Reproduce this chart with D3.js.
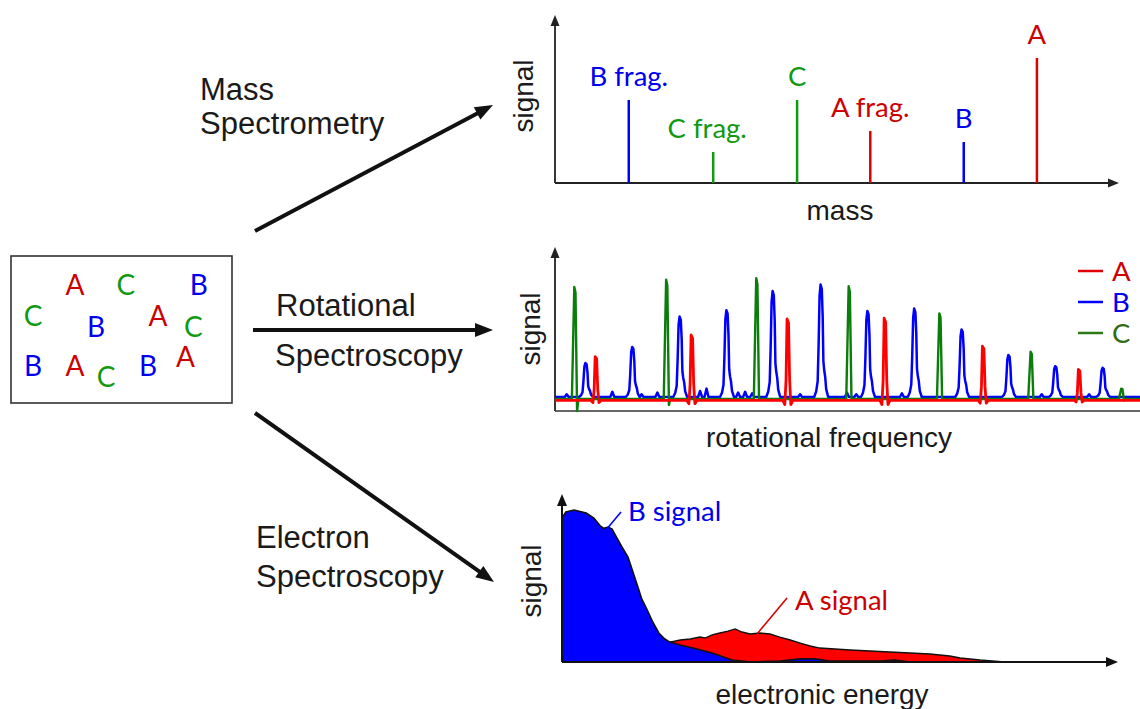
<!DOCTYPE html>
<html><head><meta charset="utf-8">
<script src="https://cdn.jsdelivr.net/npm/d3@7"></script>
<style>body{margin:0;background:#fff}svg{display:block}</style>
</head><body><svg id="c" width="1140" height="709"></svg>
<script>
// ---------- DATA ----------
// Mixture box
const mixLetters = ["A","C","B","C","B","A","C","B","A","C","B","A"];
// Mass spectrum
const massLabels = ["B frag.","C frag.","C","A frag.","B","A"];
const massSpecies = ["B","C","C","A","B","A"];
const massValues = [13.1, 28.1, 43.0, 56.0, 72.6, 85.6];
const massSignal = [50, 18.7, 50, 31.3, 24.7, 75.3];
// Rotational spectrum
const rotSeries = ["A","B","C"];
const rotBaselines = [6.6, 8.75, 7.5];
const rotBlueFreq = [5.3,13.3,21.4,29.4,37.3,45.5,53.5,61.5,69.6,77.6,85.6,93.7];
const rotBlueSignal = [30,40,59,63,75,79,62.5,64,51,35,28,27];
const rotBlueBumpFreq = [2.0,9.8,14.8,17.5,24.8,25.9,31.3,32.5,33.7,41.9,49.9,51.5,59.3,83.2,91.3];
const rotBlueBumpSignal = [10.5,12,10.5,11.5,12.5,14,11.5,12,11,10.5,11.5,10.5,11,10.5,10.5];
const rotRedFreq = [7.0,23.4,39.8,56.4,73.2,89.6];
const rotRedSignal = [34,47.5,57.5,58,40.5,26];
const rotGreenFreq = [3.4,19.1,34.5,50.3,65.8,81.4,96.9];
const rotGreenSignal = [77.5,82,83,78,61,37,14];
const rotGreenMin = [0,3.8,7.5,7.5,7.5,7.5,6.5];
// Electron spectrum
const elecBEnergy = [0,0.7,2.2,4.4,5.8,6.9,7.6,8.4,9.1,10,10.9,12,12.9,13.8,14.5,15.5,16.5,17.6,18.7,19.6,21.5,23.8,27.3,30.9,34.4,39.6,43.3,46,48.7,57.8,60.5,63.3,79.6];
const elecBSignal = [88.9,92.6,93.8,92,88.9,84.2,82.5,83.3,82,76.5,71,64.8,55.6,46.3,38.9,32.1,24.7,17.9,14.2,12.3,10.5,8.6,5.6,1.2,0,0.6,1.9,1.9,0.6,0.6,1.2,0,0];
const elecAEnergy = [19.6,21.5,23.3,25.1,26,27.3,28.7,30.2,31.5,32.7,34.2,36,37.8,39.6,41.5,43.3,45.1,46.9,49.6,52.4,56,59.6,63.3,66.9,70.5,72.4,76,80.5];
const elecASignal = [12.3,13.6,14.2,15.4,14.8,16.7,17.9,19.1,20.4,18.5,17.3,17.9,17.3,15.4,13.6,11.7,9.9,8.6,8,7.4,6.8,6.2,5.6,4.9,3.7,2.5,1.2,0];

// ---------- STYLE ----------
const TXT = {A:"#cc0000", B:"#0000ee", C:"#119911"};
const LINE = {A:"#dd0000", B:"#0000ff", C:"#119911"};
const SANS = "'Liberation Sans', Arial, sans-serif";
const CAL = "Lato, 'Open Sans', sans-serif";

const svg = d3.select("#c");
svg.append("rect").attr("width",1140).attr("height",709).attr("fill","#fff");

function arrow(g, x1, y1, x2, y2, w, len, wid, color){
  const dx = x2-x1, dy = y2-y1, L = Math.hypot(dx,dy), ux = dx/L, uy = dy/L;
  const bx = x2 - ux*len, by = y2 - uy*len;
  g.append("line").attr("x1",x1).attr("y1",y1).attr("x2",x2-ux*len*0.7).attr("y2",y2-uy*len*0.7)
    .attr("stroke",color).attr("stroke-width",w);
  g.append("path").attr("d",`M${x2},${y2}L${bx - uy*wid/2},${by + ux*wid/2}L${bx + uy*wid/2},${by - ux*wid/2}Z`)
    .attr("fill",color);
}

// ---------- Mixture box ----------
svg.append("rect").attr("x",11).attr("y",256).attr("width",221).attr("height",147)
  .attr("fill","none").attr("stroke","#333").attr("stroke-width",1.6);
const mixX = d3.scaleLinear().domain([0,10]).range([11,232]);
const mixY = d3.scaleLinear().domain([0,10]).range([256,403]);
const mixPosX = [2.9,5.2,8.5,1.0,3.85,6.65,8.25,1.0,2.9,4.3,6.2,7.9];
const mixPosY = [2.0,2.0,2.0,4.1,4.8,4.1,4.8,7.5,7.5,8.2,7.5,6.9];
svg.append("g").selectAll("text").data(mixLetters).join("text")
  .attr("x",(d,i)=>mixX(mixPosX[i])).attr("y",(d,i)=>mixY(mixPosY[i])+10)
  .attr("text-anchor","middle").attr("font-family",CAL).attr("font-size",28)
  .attr("fill",d=>TXT[d]).text(d=>d);

// ---------- Method arrows & labels ----------
const ga = svg.append("g");
arrow(ga, 255, 231, 493, 105, 4, 18, 14, "#111");
arrow(ga, 253, 330, 493, 330, 4, 18, 14, "#111");
arrow(ga, 255, 413, 494, 582, 4, 18, 14, "#111");
const meth = [["Mass",200,100],["Spectrometry",200,134],["Rotational",276,316],["Spectroscopy",275,366],["Electron",256,548],["Spectroscopy",256,587]];
ga.selectAll("text").data(meth).join("text").attr("x",d=>d[1]).attr("y",d=>d[2])
  .attr("font-family",SANS).attr("font-size",31).attr("fill","#1a1a1a").text(d=>d[0]);

// ---------- Mass spectrum ----------
const gm = svg.append("g");
const xM = d3.scaleLinear().domain([0,100]).range([555,1118]);
const yM = d3.scaleLinear().domain([0,100]).range([183,17]);
arrow(gm, xM(0), yM(0), xM(0), 15, 1.8, 11, 9, "#222");
arrow(gm, xM(0), yM(0), 1119, yM(0), 1.8, 11, 9, "#222");
gm.selectAll("line.pk").data(massValues).join("line").attr("class","pk")
  .attr("x1",d=>xM(d)).attr("x2",d=>xM(d)).attr("y1",yM(0)).attr("y2",(d,i)=>yM(massSignal[i]))
  .attr("stroke",(d,i)=>LINE[massSpecies[i]]).attr("stroke-width",2.5);
gm.selectAll("text.lb").data(massLabels).join("text").attr("class","lb")
  .attr("x",(d,i)=>xM(massValues[i]) - (d==="C frag." ? 6 : 0)).attr("y",(d,i)=>yM(massSignal[i])-14)
  .attr("text-anchor","middle").attr("font-family",CAL).attr("font-size",27.5)
  .attr("fill",(d,i)=>TXT[massSpecies[i]]).text(d=>d);
gm.append("text").attr("transform","translate(533,96) rotate(-90)").attr("text-anchor","middle")
  .attr("font-family",SANS).attr("font-size",28).attr("fill","#1a1a1a").text("signal");
gm.append("text").attr("x",840).attr("y",220).attr("text-anchor","middle")
  .attr("font-family",SANS).attr("font-size",28).attr("fill","#1a1a1a").text("mass");

// ---------- Rotational spectrum ----------
const gr = svg.append("g");
const xR = d3.scaleLinear().domain([0,100]).range([555,1140]);
const yR = d3.scaleLinear().domain([0,100]).range([411,251]);
arrow(gr, xR(0), yR(0), xR(0), 247, 1.8, 11, 9, "#222");
gr.append("line").attr("x1",xR(0)).attr("x2",1140).attr("y1",yR(0)).attr("y2",yR(0)).attr("stroke","#333").attr("stroke-width",1.6);

function buildSeries(freqs, tops, base, shape, mins){
  const pts = [{f:0,dx:0,s:base}];
  freqs.forEach((f,i)=>{
    const amp = tops[i]-base;
    shape.forEach(([dx,fr])=>{
      let s = base + amp*fr;
      if (fr < 0 && mins) s = mins[i];
      else if (fr < 0) s = base + fr*amp;
      pts.push({f, dx, s});
    });
  });
  pts.push({f:100,dx:0,s:base});
  pts.sort((a,b)=>(xR(a.f)+a.dx)-(xR(b.f)+b.dx));
  return pts;
}
const blueShape = [[-7,0],[-5,0.05],[-3.5,0.14],[-2.6,0.45],[-1.6,0.9],[-0.6,1],[0.6,0.96],[1.5,0.72],[2.2,0.32],[3,0.24],[4,0.18],[5,0.07],[7,0]];
const bumpShape = [[-2,0],[0,1],[2,0]];
const redShape = [[-5,0],[-3,-0.05],[-1.8,0.25],[-0.8,1],[0.7,0.95],[1.8,0.25],[3,-0.05],[5,0]];
const greenShape = [[-3,0],[-0.6,1],[0.6,0.95],[2.2,-1],[3.5,0]];

let bluePts = buildSeries(rotBlueFreq, rotBlueSignal, rotBaselines[1], blueShape);
const bumpPts = buildSeries(rotBlueBumpFreq, rotBlueBumpSignal, rotBaselines[1], bumpShape).filter(p=>p.s!==rotBaselines[1] || p.dx!==0);
bluePts = bluePts.concat(bumpPts).sort((a,b)=>(xR(a.f)+a.dx)-(xR(b.f)+b.dx));
const redPts = buildSeries(rotRedFreq, rotRedSignal, rotBaselines[0], redShape);
const greenPts = buildSeries(rotGreenFreq, rotGreenSignal, rotBaselines[2], greenShape, rotGreenMin);

const rLine = d3.line().x(d=>xR(d.f)+d.dx).y(d=>yR(d.s));
gr.append("path").attr("d",rLine(bluePts)).attr("fill","none").attr("stroke","#0000ff").attr("stroke-width",2.5).attr("stroke-linejoin","round");
gr.append("path").attr("d",rLine(greenPts)).attr("fill","none").attr("stroke","#0a7d0a").attr("stroke-width",2.4).attr("stroke-linejoin","round");
gr.append("path").attr("d",rLine(redPts)).attr("fill","none").attr("stroke","#ff0000").attr("stroke-width",2.8).attr("stroke-linejoin","round");

// legend
const legCol = {A:"#e00000", B:"#0000ff", C:"#2a7a16"};
const legTxt = {A:"#cc0000", B:"#0000ee", C:"#336b14"};
const legY = d3.scalePoint().domain(rotSeries).range([271,333]);
const lg = gr.append("g");
lg.selectAll("line").data(rotSeries).join("line").attr("x1",1078).attr("x2",1103)
  .attr("y1",d=>legY(d)).attr("y2",d=>legY(d)).attr("stroke",d=>legCol[d]).attr("stroke-width",2.5);
lg.selectAll("text").data(rotSeries).join("text").attr("x",1112).attr("y",d=>legY(d)+10)
  .attr("font-family",CAL).attr("font-size",27.5).attr("fill",d=>legTxt[d]).text(d=>d);
gr.append("text").attr("transform","translate(540,329) rotate(-90)").attr("text-anchor","middle")
  .attr("font-family",SANS).attr("font-size",28).attr("fill","#1a1a1a").text("signal");
gr.append("text").attr("x",829).attr("y",447).attr("text-anchor","middle")
  .attr("font-family",SANS).attr("font-size",28).attr("fill","#1a1a1a").text("rotational frequency");

// ---------- Electron spectrum ----------
const ge = svg.append("g");
const xE = d3.scaleLinear().domain([0,100]).range([562,1112]);
const yE = d3.scaleLinear().domain([0,100]).range([662,500]);
const aData = elecAEnergy.map((e,i)=>({e, s:elecASignal[i]}));
const bData = elecBEnergy.map((e,i)=>({e, s:elecBSignal[i]}));
const eArea = d3.area().x(d=>xE(d.e)).y0(yE(0)).y1(d=>yE(d.s));
const eLine = d3.line().x(d=>xE(d.e)).y(d=>yE(d.s));
ge.append("path").attr("d",eArea(aData)).attr("fill","#ff0000");
ge.append("path").attr("d",eLine(aData)).attr("fill","none").attr("stroke","#111").attr("stroke-width",1.4);
ge.append("path").attr("d",eArea(bData)).attr("fill","#0000ff");
ge.append("path").attr("d",eLine(bData)).attr("fill","none").attr("stroke","#111").attr("stroke-width",1.6);
arrow(ge, xE(0), yE(0), xE(0), 494, 2, 12, 10, "#111");
arrow(ge, xE(0), yE(0), 1118, yE(0), 2, 12, 10, "#111");
// annotations
ge.append("line").attr("x1",xE(8.1)).attr("y1",yE(82)).attr("x2",621).attr("y2",512).attr("stroke","#0000ff").attr("stroke-width",1.6);
ge.append("text").attr("x",628).attr("y",521).attr("font-family",CAL).attr("font-size",27.5).attr("fill","#0000ee").text("B signal");
ge.append("line").attr("x1",xE(35.5)).attr("y1",yE(17.5)).attr("x2",787).attr("y2",598).attr("stroke","#dd0000").attr("stroke-width",1.6);
ge.append("text").attr("x",795).attr("y",610).attr("font-family",CAL).attr("font-size",27.5).attr("fill","#cc0000").text("A signal");
ge.append("text").attr("transform","translate(541,581) rotate(-90)").attr("text-anchor","middle")
  .attr("font-family",SANS).attr("font-size",28).attr("fill","#1a1a1a").text("signal");
ge.append("text").attr("x",822).attr("y",704).attr("text-anchor","middle")
  .attr("font-family",SANS).attr("font-size",28).attr("fill","#1a1a1a").text("electronic energy");
</script></body></html>
